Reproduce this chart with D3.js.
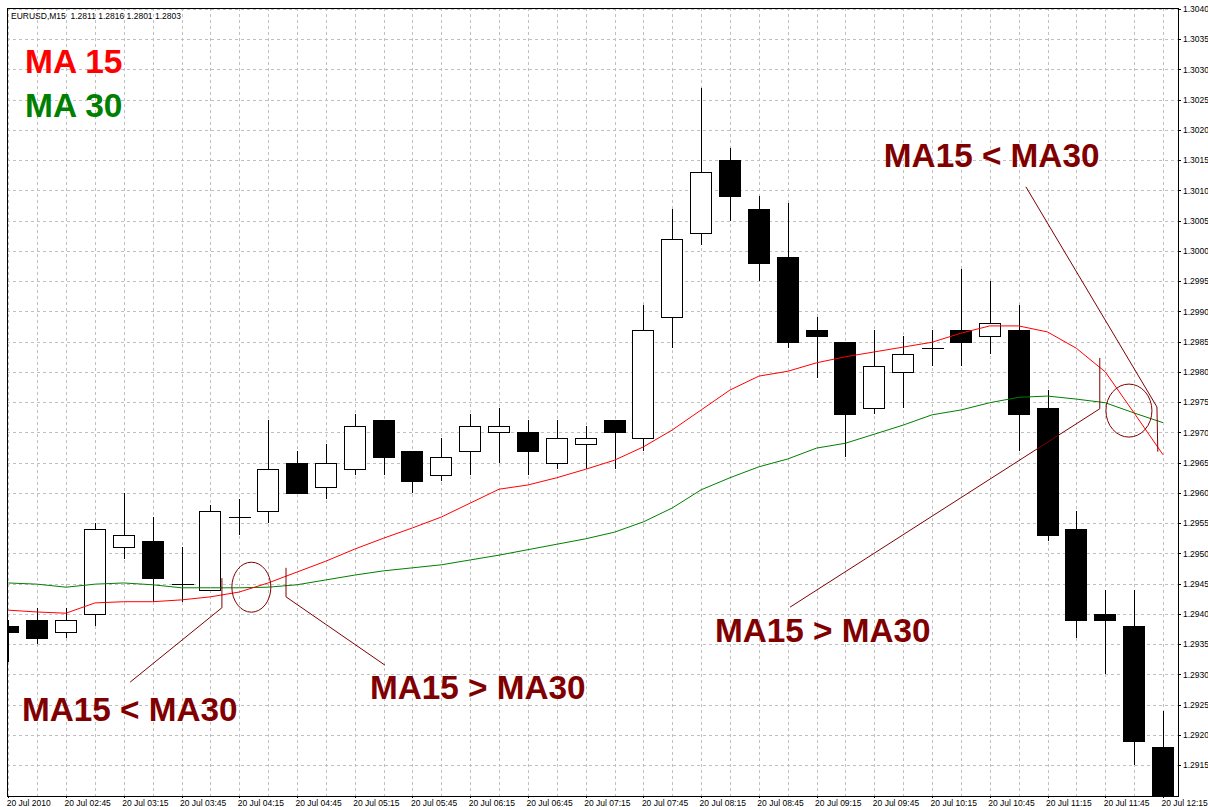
<!DOCTYPE html>
<html>
<head>
<meta charset="utf-8">
<script src="https://cdn.jsdelivr.net/npm/d3@7"></script>
<style>
  body { margin: 0; background: #fff; }
  svg { display: block; font-family: "Liberation Sans", Arial, sans-serif; }
  .grid line { stroke: #c0c0c0; stroke-dasharray: 3,3; shape-rendering: crispEdges; }
  .axis text { font-size: 8.5px; fill: #000; }
  .axis line { stroke: #000; shape-rendering: crispEdges; }
  .axis .domain { display: none; }
  .note { font-size: 33.3px; font-weight: bold; fill: #800000; }
</style>
</head>
<body>
<svg class="chart" width="1208" height="807"></svg>
<script>
// 15 minute bars, 20 Jul 2010
var times = ["02:15","02:30","02:45","03:00","03:15","03:30","03:45","04:00","04:15","04:30",
             "04:45","05:00","05:15","05:30","05:45","06:00","06:15","06:30","06:45","07:00",
             "07:15","07:30","07:45","08:00","08:15","08:30","08:45","09:00","09:15","09:30",
             "09:45","10:00","10:15","10:30","10:45","11:00","11:15","11:30","11:45","12:00","12:15"];

var opens  = [1.2938,1.2939,1.2937,1.2940,1.2951,1.2952,1.2945,1.2944,1.2956,1.2957,
              1.2965,1.2961,1.2964,1.2972,1.2967,1.2963,1.2967,1.2970,1.2970,1.2965,
              1.2968,1.2972,1.2969,1.2989,1.3003,1.3015,1.3007,1.2999,1.2987,1.2985,
              1.2974,1.2980,1.2984,1.2987,1.2986,1.2987,1.2974,1.2954,1.2940,1.2938,1.2918];
var highs  = [1.2939,1.2941,1.2941,1.2955,1.2960,1.2956,1.2951,1.2958,1.2959,1.2972,
              1.2967,1.2968,1.2973,1.2972,1.2967,1.2969,1.2973,1.2974,1.2972,1.2972,
              1.2971,1.2972,1.2991,1.3007,1.3027,1.3017,1.3009,1.3008,1.2989,1.2985,
              1.2987,1.2986,1.2987,1.2997,1.2995,1.2991,1.2977,1.2957,1.2944,1.2944,1.2924];
var lows   = [1.2932,1.2935,1.2936,1.2938,1.2949,1.2942,1.2942,1.2944,1.2953,1.2955,
              1.2960,1.2959,1.2963,1.2963,1.2960,1.2962,1.2963,1.2965,1.2963,1.2964,
              1.2964,1.2964,1.2967,1.2984,1.3001,1.3005,1.2995,1.2984,1.2979,1.2966,
              1.2973,1.2974,1.2981,1.2981,1.2983,1.2967,1.2952,1.2936,1.2930,1.2915,1.2905];
var closes = [1.2937,1.2936,1.2939,1.2954,1.2953,1.2946,1.2945,1.2957,1.2956,1.2964,
              1.2960,1.2965,1.2971,1.2966,1.2962,1.2966,1.2971,1.2971,1.2967,1.2969,
              1.2969,1.2970,1.2987,1.3002,1.3013,1.3009,1.2998,1.2985,1.2986,1.2973,
              1.2981,1.2983,1.2984,1.2985,1.2988,1.2973,1.2953,1.2939,1.2939,1.2919,1.2907];

var ma15 = [1.29406,1.29403,1.29401,1.29418,1.29420,1.29420,1.29423,1.29428,1.29436,1.29451,
            1.29469,1.29487,1.29507,1.29525,1.29542,1.29560,1.29583,1.29606,1.29613,1.29625,
            1.29639,1.29654,1.29676,1.29704,1.29737,1.29770,1.29793,1.29801,1.29815,1.29825,
            1.29833,1.29841,1.29849,1.29864,1.29876,1.29876,1.29866,1.29839,1.29800,1.29732,1.29663];
var ma30 = [1.29451,1.29449,1.29444,1.29449,1.29451,1.29448,1.29443,1.29443,1.29443,1.29444,
            1.29448,1.29456,1.29464,1.29471,1.29476,1.29481,1.29489,1.29497,1.29506,1.29515,
            1.29524,1.29535,1.29552,1.29575,1.29605,1.29625,1.29643,1.29656,1.29674,1.29682,
            1.29697,1.29712,1.29729,1.29737,1.29749,1.29758,1.29760,1.29755,1.29749,1.29732,1.29716];

var priceTicks = [1.2915,1.2920,1.2925,1.2930,1.2935,1.2940,1.2945,1.2950,1.2955,1.2960,1.2965,
                  1.2970,1.2975,1.2980,1.2985,1.2990,1.2995,1.3000,1.3005,1.3010,1.3015,1.3020,
                  1.3025,1.3030,1.3035,1.3040];

// one label every second bar
var timeLabels = ["20 Jul 2010","20 Jul 02:45","20 Jul 03:15","20 Jul 03:45","20 Jul 04:15",
                  "20 Jul 04:45","20 Jul 05:15","20 Jul 05:45","20 Jul 06:15","20 Jul 06:45",
                  "20 Jul 07:15","20 Jul 07:45","20 Jul 08:15","20 Jul 08:45","20 Jul 09:15",
                  "20 Jul 09:45","20 Jul 10:15","20 Jul 10:45","20 Jul 11:15","20 Jul 11:45",
                  "20 Jul 12:15"];

var frame = {left: 7, top: 8, right: 1178, bottom: 796};

var bars = times.map(function(t, i) {
  return {i: i, t: t, o: opens[i], h: highs[i], l: lows[i], c: closes[i]};
});

var x = d3.scaleLinear()
    .domain([0, times.length - 1])
    .range([8.3, 1163]);

var y = d3.scaleLinear()
    .domain([1.2915, 1.3040])
    .range([765, 9]);

var bodyHalf = 11;

var svg = d3.select(".chart");

svg.append("defs").append("clipPath")
    .attr("id", "plot")
  .append("rect")
    .attr("x", frame.left)
    .attr("y", frame.top)
    .attr("width", frame.right - frame.left)
    .attr("height", frame.bottom - frame.top);

var plot = svg.append("g").attr("clip-path", "url(#plot)");

// grid
var grid = plot.append("g").attr("class", "grid");
grid.selectAll("line.h")
    .data(priceTicks)
  .enter().append("line")
    .attr("class", "h")
    .attr("x1", frame.left).attr("x2", frame.right)
    .attr("y1", function(d) { return Math.round(y(d)) + 0.5; })
    .attr("y2", function(d) { return Math.round(y(d)) + 0.5; });
grid.selectAll("line.v")
    .data(bars)
  .enter().append("line")
    .attr("class", "v")
    .attr("y1", frame.top).attr("y2", frame.bottom)
    .attr("x1", function(d) { return Math.round(x(d.i)) + 0.5; })
    .attr("x2", function(d) { return Math.round(x(d.i)) + 0.5; });

// candles
var candle = plot.selectAll("g.candle")
    .data(bars)
  .enter().append("g")
    .attr("class", "candle")
    .attr("transform", function(d) { return "translate(" + (Math.round(x(d.i)) + 0.5) + ",0)"; });

candle.append("line")
    .attr("y1", function(d) { return Math.round(y(d.h)); })
    .attr("y2", function(d) { return Math.round(y(d.l)); })
    .attr("stroke", "#000")
    .attr("shape-rendering", "crispEdges");

candle.filter(function(d) { return d.o !== d.c; })
  .append("rect")
    .attr("x", -bodyHalf)
    .attr("width", bodyHalf * 2 - 1)
    .attr("y", function(d) { return Math.round(y(Math.max(d.o, d.c))) + 0.5; })
    .attr("height", function(d) { return Math.max(1, Math.round(y(Math.min(d.o, d.c))) - Math.round(y(Math.max(d.o, d.c)))); })
    .attr("fill", function(d) { return d.c > d.o ? "#fff" : "#000"; })
    .attr("stroke", "#000")
    .attr("shape-rendering", "crispEdges");

candle.filter(function(d) { return d.o === d.c; })
  .append("line")
    .attr("x1", -bodyHalf).attr("x2", bodyHalf)
    .attr("y1", function(d) { return Math.round(y(d.o)) + 0.5; })
    .attr("y2", function(d) { return Math.round(y(d.o)) + 0.5; })
    .attr("stroke", "#000")
    .attr("shape-rendering", "crispEdges");

// moving averages
var maLine = d3.line()
    .x(function(d, i) { return x(i); })
    .y(function(d) { return y(d); });

plot.append("path")
    .datum(ma30)
    .attr("d", maLine)
    .attr("fill", "none")
    .attr("stroke", "#008000")
    .attr("stroke-width", 1);

plot.append("path")
    .datum(ma15)
    .attr("d", maLine)
    .attr("fill", "none")
    .attr("stroke", "#ff0000")
    .attr("stroke-width", 1);

// hand drawn notes: anchors in bar index / price
var callouts = [
  {text: "MA15 < MA30", at: [30.33, 1.30139], path: [[35.25, 1.30106], [39.79, 1.29742], [39.82, 1.29668]]},
  {text: "MA15 > MA30", at: [24.48, 1.29353], path: [[27.08, 1.29411], [37.81, 1.29739], [37.81, 1.29823]]},
  {text: "MA15 > MA30", at: [12.53, 1.29259], path: [[13.05, 1.29315], [9.62, 1.29428], [9.62, 1.29476]]},
  {text: "MA15 < MA30", at: [0.475, 1.29223], path: [[4.22, 1.29287], [7.40, 1.29410], [7.40, 1.29459]]}
];
var rings = [
  {at: [8.42, 1.29444], rx: 19.5, ry: 25},
  {at: [38.82, 1.29736], rx: 23, ry: 26.5}
];

var pointLine = d3.line()
    .x(function(d) { return x(d[0]); })
    .y(function(d) { return y(d[1]); });

plot.selectAll("path.callout")
    .data(callouts)
  .enter().append("path")
    .attr("class", "callout")
    .attr("d", function(d) { return pointLine(d.path); })
    .attr("fill", "none")
    .attr("stroke", "#800000")
    .attr("stroke-width", 1);

plot.selectAll("ellipse")
    .data(rings)
  .enter().append("ellipse")
    .attr("cx", function(d) { return x(d.at[0]); })
    .attr("cy", function(d) { return y(d.at[1]); })
    .attr("rx", function(d) { return d.rx; })
    .attr("ry", function(d) { return d.ry; })
    .attr("fill", "none")
    .attr("stroke", "#800000")
    .attr("stroke-width", 1);

plot.selectAll("text.note")
    .data(callouts)
  .enter().append("text")
    .attr("class", "note")
    .attr("x", function(d) { return x(d.at[0]); })
    .attr("y", function(d) { return y(d.at[1]); })
    .text(function(d) { return d.text; });

// header and legend
svg.append("text")
    .attr("x", 11).attr("y", 19)
    .attr("font-size", "8.5px")
    .style("white-space", "pre")
    .text("EURUSD,M15  1.2811 1.2816 1.2801 1.2803");

svg.append("text")
    .attr("x", 25).attr("y", 73)
    .attr("font-size", "33.5px").attr("font-weight", "bold")
    .attr("fill", "#ff0000")
    .text("MA 15");

svg.append("text")
    .attr("x", 25).attr("y", 117)
    .attr("font-size", "33.5px").attr("font-weight", "bold")
    .attr("fill", "#008000")
    .text("MA 30");

// axes
var yAxis = d3.axisRight(y)
    .tickValues(priceTicks)
    .tickSize(3)
    .tickPadding(2)
    .tickFormat(d3.format(".4f"));

svg.append("g")
    .attr("class", "axis")
    .attr("transform", "translate(" + frame.right + ",0)")
    .call(yAxis);

var xAxis = d3.axisBottom(x)
    .tickValues(d3.range(0, times.length, 2))
    .tickSize(2)
    .tickFormat(function(d) { return timeLabels[d / 2]; });

var xg = svg.append("g")
    .attr("class", "axis")
    .attr("transform", "translate(0," + frame.bottom + ")")
    .call(xAxis);

xg.selectAll("text")
    .attr("text-anchor", "start")
    .attr("dx", "-2")
    .attr("y", 10)
    .attr("dy", 0);

// chart frame
svg.append("rect")
    .attr("x", frame.left + 0.5)
    .attr("y", frame.top + 0.5)
    .attr("width", frame.right - frame.left)
    .attr("height", frame.bottom - frame.top)
    .attr("fill", "none")
    .attr("stroke", "#000")
    .attr("shape-rendering", "crispEdges");
</script>
</body>
</html>
